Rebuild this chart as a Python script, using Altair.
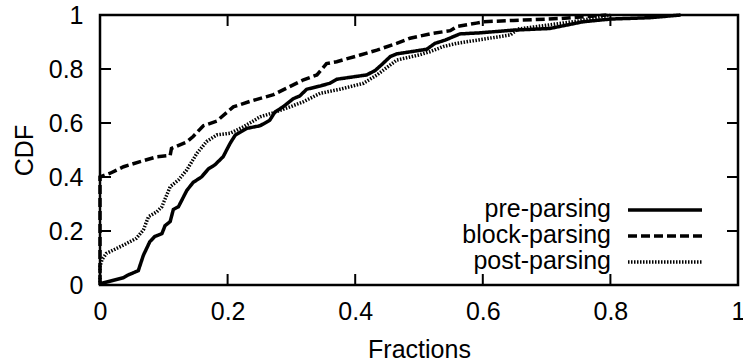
import altair as alt
import pandas as pd

# ---- data ----
pre_x = [0, 0.037, 0.044, 0.06, 0.068, 0.078, 0.086, 0.097, 0.102, 0.11,
         0.115, 0.123, 0.136, 0.146, 0.159, 0.17, 0.18, 0.193, 0.204, 0.212,
         0.23, 0.251, 0.266, 0.274, 0.287, 0.303, 0.313, 0.324, 0.345, 0.36,
         0.371, 0.418, 0.431, 0.441, 0.455, 0.465, 0.512, 0.525, 0.541, 0.554,
         0.564, 0.596, 0.648, 0.705, 0.757, 0.80, 0.862, 0.91]
pre_y = [0.005, 0.027, 0.037, 0.053, 0.11, 0.16, 0.18, 0.19, 0.22, 0.235,
         0.28, 0.29, 0.35, 0.38, 0.40, 0.43, 0.445, 0.475, 0.525, 0.555,
         0.58, 0.59, 0.61, 0.64, 0.66, 0.69, 0.70, 0.725, 0.737, 0.747,
         0.762, 0.778, 0.794, 0.815, 0.846, 0.856, 0.873, 0.895, 0.907, 0.92,
         0.93, 0.934, 0.944, 0.95, 0.975, 0.985, 0.99, 1.0]

block_x = [0, 0, 0.016, 0.037, 0.063, 0.089, 0.11, 0.112, 0.136, 0.146,
           0.162, 0.183, 0.209, 0.235, 0.272, 0.319, 0.34, 0.355, 0.371, 0.408,
           0.434, 0.465, 0.486, 0.517, 0.549, 0.559, 0.59, 0.601, 0.648, 0.721,
           0.794]
block_y = [0, 0.40, 0.414, 0.438, 0.457, 0.475, 0.48, 0.506, 0.53, 0.55,
           0.59, 0.607, 0.66, 0.68, 0.705, 0.76, 0.778, 0.82, 0.827, 0.852,
           0.87, 0.895, 0.914, 0.93, 0.942, 0.957, 0.97, 0.975, 0.98, 0.987,
           1.0]

post_x = [0, 0, 0.003, 0.01, 0.037, 0.057, 0.068, 0.076, 0.089, 0.097,
          0.11, 0.123, 0.136, 0.152, 0.167, 0.183, 0.204, 0.225, 0.251, 0.272,
          0.298, 0.319, 0.345, 0.376, 0.413, 0.434, 0.455, 0.465, 0.50, 0.517,
          0.538, 0.559, 0.643, 0.655, 0.70, 0.75, 0.80]
post_y = [0.01, 0.068, 0.093, 0.117, 0.148, 0.173, 0.204, 0.253, 0.271, 0.29,
          0.364, 0.389, 0.426, 0.488, 0.531, 0.556, 0.562, 0.586, 0.623, 0.638,
          0.66, 0.679, 0.71, 0.725, 0.747, 0.778, 0.815, 0.833, 0.852, 0.864,
          0.883, 0.895, 0.926, 0.948, 0.962, 0.978, 1.0]

series_names = ["pre-parsing", "block-parsing", "post-parsing"]
tick_values = [0, 0.2, 0.4, 0.6, 0.8, 1]
inner_ticks = [0.2, 0.4, 0.6, 0.8]

# ---- layout / style ----
W, H = 638, 270
FONT = "Liberation Sans"
FS = 25
TICK = 11
LINE_STYLES = [
    {"strokeDash": [1, 0], "strokeWidth": 3.5},
    {"strokeDash": [9, 4], "strokeWidth": 3.5},
    {"strokeDash": [1.5, 1.5], "strokeWidth": 3.5},
]

xs = alt.Scale(domain=[0, 1], nice=False, zero=False)
ys = alt.Scale(domain=[0, 1], nice=False, zero=False)


def series_layer(xv, yv, style, with_axes=False):
    df = pd.DataFrame({"x": xv, "y": yv, "i": list(range(len(xv)))})
    if with_axes:
        xenc = alt.X("x:Q", scale=xs, axis=alt.Axis(
            values=tick_values, format=".1~f", title="Fractions", grid=False,
            ticks=False, tickSize=0, domain=False, labelPadding=14,
            titlePadding=13, labelFontSize=FS, titleFontSize=FS,
            labelFont=FONT, titleFont=FONT, titleFontWeight="normal",
            labelColor="black", titleColor="black", labelFlush=False))
        yenc = alt.Y("y:Q", scale=ys, axis=alt.Axis(
            values=tick_values, format=".1~f", title="CDF", grid=False,
            ticks=False, tickSize=0, domain=False, labelPadding=17,
            titlePadding=11, labelFontSize=FS, titleFontSize=FS,
            labelFont=FONT, titleFont=FONT, titleFontWeight="normal",
            labelColor="black", titleColor="black", labelFlush=False))
    else:
        xenc = alt.X("x:Q", scale=xs)
        yenc = alt.Y("y:Q", scale=ys)
    return alt.Chart(df).mark_line(
        color="black", strokeDash=style["strokeDash"],
        strokeWidth=style["strokeWidth"], strokeCap="butt", strokeJoin="miter"
    ).encode(x=xenc, y=yenc, order=alt.Order("i:Q"))


layers = [
    series_layer(pre_x, pre_y, LINE_STYLES[0], with_axes=True),
    series_layer(block_x, block_y, LINE_STYLES[1]),
    series_layer(post_x, post_y, LINE_STYLES[2]),
]

# inward ticks on all four sides
tdf = pd.DataFrame({"v": inner_ticks})
tick_style = dict(color="black", strokeWidth=2)
layers += [
    alt.Chart(tdf).mark_rule(**tick_style).encode(
        x=alt.X("v:Q", scale=xs), y=alt.value(H), y2=alt.value(H - TICK)),
    alt.Chart(tdf).mark_rule(**tick_style).encode(
        x=alt.X("v:Q", scale=xs), y=alt.value(0), y2=alt.value(TICK)),
    alt.Chart(tdf).mark_rule(**tick_style).encode(
        y=alt.Y("v:Q", scale=ys), x=alt.value(0), x2=alt.value(TICK)),
    alt.Chart(tdf).mark_rule(**tick_style).encode(
        y=alt.Y("v:Q", scale=ys), x=alt.value(W), x2=alt.value(W - TICK)),
]

# legend (inside, bottom right; label to the left of the sample)
LEG_TEXT_X = 511
LEG_SAMPLE_X0, LEG_SAMPLE_X1 = 528, 602
LEG_ROWS_Y = [194, 220, 246]
for name, style, ry in zip(series_names, LINE_STYLES, LEG_ROWS_Y):
    ldf = pd.DataFrame({"label": [name]})
    layers.append(
        alt.Chart(ldf).mark_text(
            align="right", baseline="middle", font=FONT, fontSize=FS,
            color="black"
        ).encode(text="label:N", x=alt.value(LEG_TEXT_X), y=alt.value(ry))
    )
    layers.append(
        alt.Chart(ldf).mark_rule(
            color="black", strokeDash=style["strokeDash"],
            strokeWidth=style["strokeWidth"], strokeCap="butt"
        ).encode(x=alt.value(LEG_SAMPLE_X0), x2=alt.value(LEG_SAMPLE_X1),
                 y=alt.value(ry + 1))
    )

chart = alt.layer(*layers).properties(
    width=W, height=H,
    autosize=alt.AutoSizeParams(type="none"),
    padding={"left": 100, "top": 15, "right": 5, "bottom": 79},
    background="white",
).configure_view(stroke="black", strokeWidth=2.5)

chart.save("out.html", embed_options={"renderer": "svg", "actions": False})
